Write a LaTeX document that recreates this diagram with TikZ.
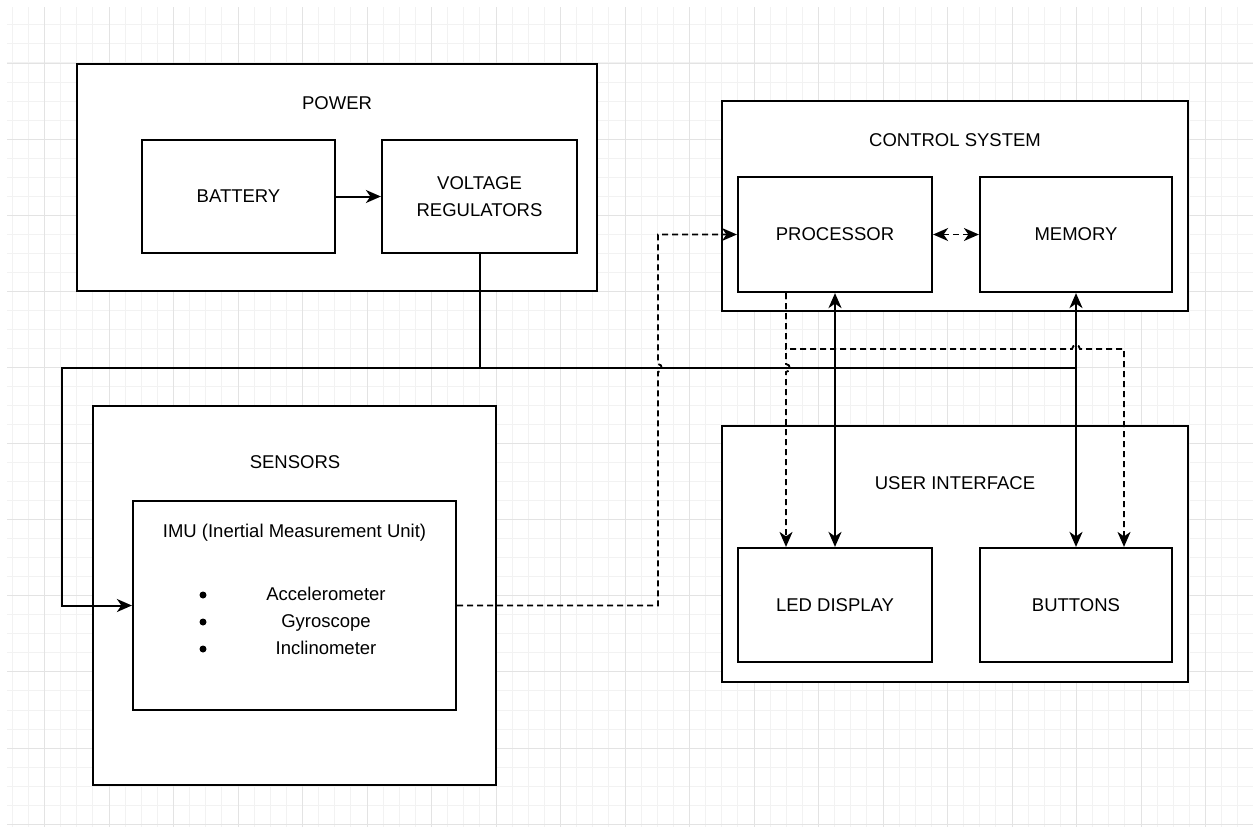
\documentclass[tikz,border=0pt]{standalone}
\usepackage{fontspec}
\setmainfont{Liberation Sans}
\usetikzlibrary{arrows.meta, calc}

\begin{document}
\begin{tikzpicture}[x=1pt, y=-1pt,
                gridminor/.style={draw=black!5, line width=1pt},
                gridmajor/.style={draw=black!11, line width=1pt},
                box/.style={draw, line width=2.2pt, fill=white, inner sep=0pt, align=center, font=\fontsize{18.5}{27}\selectfont},
                title/.style={font=\fontsize{18.5}{22}\selectfont, text height=13.3pt, text depth=0pt, inner sep=0pt},
                wire/.style={line width=2pt},
                dashwire/.style={line width=1.8pt, dash pattern=on 6pt off 4pt},
                tip/.style={-{Stealth[length=15pt, width=13pt, inset=4.5pt]}},
                tips/.style={{Stealth[length=15pt, width=13pt, inset=4.5pt]}-{Stealth[length=15pt, width=13pt, inset=4.5pt]}}]
                \useasboundingbox (0,0) rectangle (1253,827);
                % background grid
                \begin{scope}
                    \clip (7,7) rectangle (1253,827);
                    \foreach \i in {0,...,77} \draw[gridminor] ({12.25+16.125*\i},0) -- ++(0,827);
                    \foreach \i in {0,...,43} \draw[gridminor] (0,{5.9+19.03*\i}) -- ++(1253,0);
                    \foreach \i in {0,...,18} \draw[gridmajor] ({44.5+64.5*\i},0) -- ++(0,827);
                    \foreach \i in {0,...,10} \draw[gridmajor] (0,{63+76.12*\i}) -- ++(1253,0);
                \end{scope}
                % blocks
                \node[box, minimum width=520pt, minimum height=227pt] (power) at (337,177.5) {};
                \node[box, minimum width=466pt, minimum height=210pt] (ctrl) at (955,206) {};
                \node[box, minimum width=466pt, minimum height=256pt] (ui) at (955,554) {};
                \node[box, minimum width=403pt, minimum height=379pt] (sens) at (294.5,595.5) {};
                \node[title] (powert) at (337,103) {POWER};
                \node[title] (ctrlt) at (955,140) {CONTROL SYSTEM};
                \node[title] (uit) at (955,483) {USER INTERFACE};
                \node[title] (senst) at (295,462) {SENSORS};
                \node[box, minimum width=193pt, minimum height=113pt] (batt) at (238.5,196.5) {BATTERY};
                \node[box, minimum width=195pt, minimum height=113pt] (volt) at (479.5,196.5) {VOLTAGE\\REGULATORS};
                \node[box, minimum width=194pt, minimum height=115pt] (proc) at (835,234.5) {PROCESSOR};
                \node[box, minimum width=192pt, minimum height=115pt] (mem) at (1076,234.5) {MEMORY};
                \node[box, minimum width=194pt, minimum height=114pt] (led) at (835,605) {LED DISPLAY};
                \node[box, minimum width=192pt, minimum height=114pt] (btn) at (1076,605) {BUTTONS};
                \node[box, minimum width=323pt, minimum height=209pt] (imu) at (294.5,605.5) {};
                \node[title] (imut) at (294.5,531) {IMU (Inertial Measurement Unit)};
                \foreach \t [count=\k] in {Accelerometer, Gyroscope, Inclinometer} {
                    \node[title] (item\k) at (326,{567+27*\k}) {\t};
                    \fill (203,{568+27*\k}) circle (3.5pt);
                }
                % power lines
                \coordinate (busL) at (62,368);
                \coordinate (busR) at (mem.south |- busL);
                \draw[wire, tip] (batt) -- (volt);
                \draw[wire] (volt.south) -- (volt.south |- busL);
                \draw[wire, tip] (busR) -- (busL) |- (imu.west);
                \draw[wire, tips] (proc.south) -- (led.north);
                \draw[wire, tips] (mem.south) -- (btn.north);
                % data lines
                \coordinate (dl) at (658,0);
                \coordinate (hop) at (0,349);
                \coordinate (pd) at ($(proc.south)+(-49,0)$);
                \coordinate (bd) at ($(btn.north)+(48,0)$);
                \draw[dashwire, tips] (proc) -- (mem);
                \draw[dashwire, tip] (imu.east) -- (imu.east -| dl) -- ($(dl |- busL)+(0,4)$) .. controls +(5,0) and +(5,0) .. ($(dl |- busL)+(0,-4)$) |- (proc.west);
                \draw[dashwire, tip] (pd) -- ($(pd |- busL)+(0,-4)$) .. controls +(5,0) and +(5,0) .. ($(pd |- busL)+(0,4)$) -- (pd |- led.north);
                \draw[dashwire, tip] (pd) -- (pd |- hop) -- ($(mem.south |- hop)+(-4,0)$) .. controls +(0,-5) and +(0,-5) .. ($(mem.south |- hop)+(4,0)$) -| (bd);
            \end{tikzpicture}
\end{document}
